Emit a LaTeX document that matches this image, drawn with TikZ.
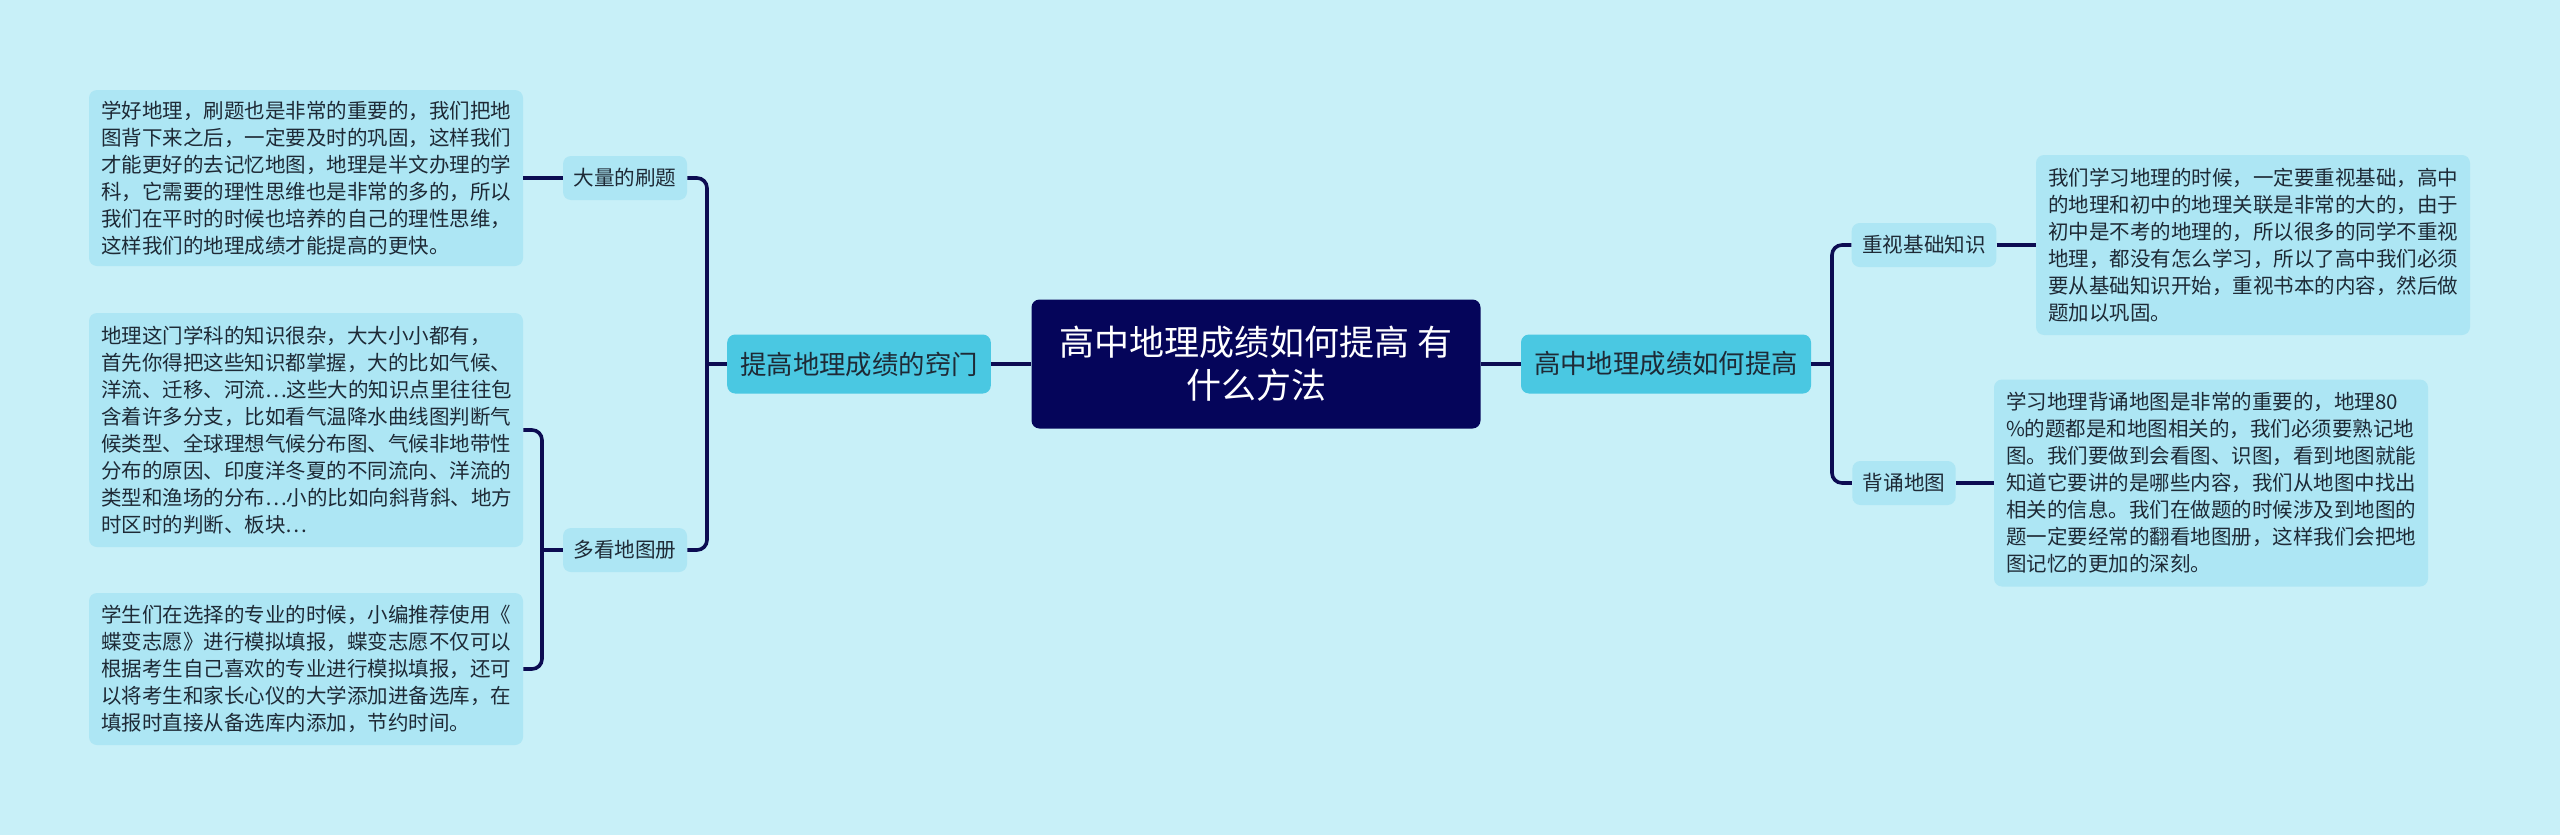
\documentclass[tikz,border=0pt]{standalone}
\usepackage{fontspec}
\newfontfamily\cjk{Noto Sans CJK SC}
\definecolor{bgcyan}{HTML}{C8F0F8}
\definecolor{leafcyan}{HTML}{ADE6F4}
\definecolor{midcyan}{HTML}{4AC8E2}
\definecolor{rootnavy}{HTML}{05055A}
\definecolor{linknavy}{HTML}{0C0C52}
\definecolor{inktext}{HTML}{1E2A36}

\begin{document}
\begin{tikzpicture}[x=0.5pt, y=-0.5pt,
  link/.style={draw=linknavy, line width=1.8pt},
  rootbox/.style={fill=rootnavy, text=white, rounded corners=4pt, align=center,
    font=\cjk\fontsize{17.5pt}{21.5pt}\selectfont, minimum width=224.5pt, minimum height=64.5pt, inner sep=0pt},
  topicbox/.style={fill=midcyan, text=inktext, rounded corners=4pt,
    font=\cjk\fontsize{13.2pt}{16pt}\selectfont, minimum height=29.5pt, inner xsep=6.5pt, inner ysep=0pt},
  subbox/.style={fill=leafcyan, text=inktext, rounded corners=4pt,
    font=\cjk\fontsize{10.3pt}{13pt}\selectfont, minimum height=22pt, inner xsep=5.25pt, inner ysep=0pt},
  notebox/.style={fill=leafcyan, text=inktext, rounded corners=4pt, align=left, text width=205pt,
    font=\cjk\fontsize{10.25pt}{13.5pt}\selectfont, inner xsep=6pt, inner ysep=0pt}]
  % fondo
  \fill[bgcyan] (0,0) rectangle (2560,835);
  % centro y temas
  \node[rootbox] (root) at (1256,364) {高中地理成绩如何提高 有\\什么方法};
  \node[topicbox] (tiao) at (859,364) {提高地理成绩的窍门};
  \node[topicbox] (gao) at (1666,364) {高中地理成绩如何提高};
  % subtemas
  \node[subbox] (shua) at (625,178) {大量的刷题};
  \node[subbox] (duo) at (625,550) {多看地图册};
  \node[subbox] (zhong) at (1924,245) {重视基础知识};
  \node[subbox] (bei) at (1904,483) {背诵地图};
  % notas izquierda
  \node[notebox, minimum height=88pt] (t1) at (306,178) {学好地理，刷题也是非常的重要的，我们把地\\
图背下来之后，一定要及时的巩固，这样我们\\
才能更好的去记忆地图，地理是半文办理的学\\
科，它需要的理性思维也是非常的多的，所以\\
我们在平时的时候也培养的自己的理性思维，\\
这样我们的地理成绩才能提高的更快。};
  \node[notebox, minimum height=117pt] (t2) at (306,430) {地理这门学科的知识很杂，大大小小都有，\\
首先你得把这些知识都掌握，大的比如气候、\\
洋流、迁移、河流…这些大的知识点里往往包\\
含着许多分支，比如看气温降水曲线图判断气\\
候类型、全球理想气候分布图、气候非地带性\\
分布的原因、印度洋冬夏的不同流向、洋流的\\
类型和渔场的分布…小的比如向斜背斜、地方\\
时区时的判断、板块…};
  \node[notebox, minimum height=76pt] (t3) at (306,669) {学生们在选择的专业的时候，小编推荐使用《\\
蝶变志愿》进行模拟填报，蝶变志愿不仅可以\\
根据考生自己喜欢的专业进行模拟填报，还可\\
以将考生和家长心仪的大学添加进备选库，在\\
填报时直接从备选库内添加，节约时间。};
  % notas derecha
  \node[notebox, minimum height=90pt] (r1) at (2253,245) {我们学习地理的时候，一定要重视基础，高中\\
的地理和初中的地理关联是非常的大的，由于\\
初中是不考的地理的，所以很多的同学不重视\\
地理，都没有怎么学习，所以了高中我们必须\\
要从基础知识开始，重视书本的内容，然后做\\
题加以巩固。};
  \node[notebox, minimum height=103.5pt] (r2) at (2211,483) {学习地理背诵地图是非常的重要的，地理80\\
\%的题都是和地图相关的，我们必须要熟记地\\
图。我们要做到会看图、识图，看到地图就能\\
知道它要讲的是哪些内容，我们从地图中找出\\
相关的信息。我们在做题的时候涉及到地图的\\
题一定要经常的翻看地图册，这样我们会把地\\
图记忆的更加的深刻。};
  % conexiones
  \coordinate (lsplit) at (707,364);
  \coordinate (dsplit) at (542,550);
  \coordinate (rsplit) at (1832,364);
  \draw[link] (tiao.east) -- (root.west);
  \draw[link] (root.east) -- (gao.west);
  \draw[link, rounded corners=5pt] (shua.east) -| (lsplit) |- (duo.east);
  \draw[link] (lsplit) -- (tiao.west);
  \draw[link] (t1.east) -- (shua.west);
  \draw[link, rounded corners=5pt] (t2.east) -| (dsplit) |- (t3.east);
  \draw[link] (dsplit) -- (duo.west);
  \draw[link, rounded corners=5pt] (zhong.west) -| (rsplit) |- (bei.west);
  \draw[link] (gao.east) -- (rsplit);
  \draw[link] (zhong.east) -- (r1.west);
  \draw[link] (bei.east) -- (r2.west);
\end{tikzpicture}
\end{document}
